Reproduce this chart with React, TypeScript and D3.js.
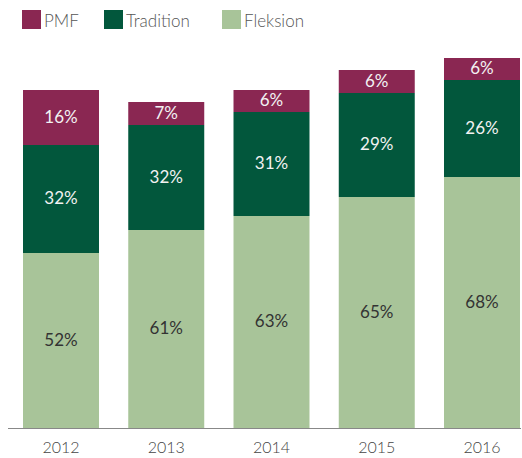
import React from 'react';
import * as d3 from 'd3';

const years = ['2012', '2013', '2014', '2015', '2016'];
const seriesNames = ['Fleksion', 'Tradition', 'PMF'];
// segment sizes (relative units)
const fleksion = [175, 198, 212, 231, 251];
const tradition = [108, 105, 104, 104, 97];
const pmf = [55, 23, 22, 23, 22];
// printed share labels
const fleksionLabels = ['52%', '61%', '63%', '65%', '68%'];
const traditionLabels = ['32%', '32%', '31%', '29%', '26%'];
const pmfLabels = ['16%', '7%', '6%', '6%', '6%'];

const colors: Record<string, string> = {
  PMF: '#8a2752',
  Tradition: '#02573c',
  Fleksion: '#a8c499',
};
const labelColors: Record<string, string> = {
  PMF: '#f2f2f2',
  Tradition: '#f2f2f2',
  Fleksion: '#333',
};

const W = 522;
const H = 458;
const font = 'Lato, "Open Sans", sans-serif';

export default function App() {
  const rows = years.map((y, i) => ({
    year: y,
    Fleksion: fleksion[i],
    Tradition: tradition[i],
    PMF: pmf[i],
  }));
  const labels: Record<string, string[]> = {
    Fleksion: fleksionLabels,
    Tradition: traditionLabels,
    PMF: pmfLabels,
  };

  const x = d3.scaleBand<string>().domain(years).range([23, 520]).paddingInner(0.278).paddingOuter(0);
  const y = d3.scaleLinear().domain([0, 370]).range([428, 58]);
  const stacked = d3.stack<any>().keys(seriesNames)(rows);

  const legend = [
    { name: 'PMF', x: 22 },
    { name: 'Tradition', x: 104 },
    { name: 'Fleksion', x: 222 },
  ];

  return (
    <svg width={W} height={H} style={{ position: 'absolute', left: 0, top: 0 }} fontFamily={font}>
      {legend.map((l) => (
        <g key={l.name}>
          <rect x={l.x} y={10} width={19} height={19} fill={colors[l.name]} />
          <text x={l.x + 22} y={27} fontSize={17} fontWeight={300} fill="#555">{l.name}</text>
        </g>
      ))}
      {stacked.map((s) => (
        <g key={s.key}>
          {s.map((d, i) => {
            const bx = x(years[i])!;
            const top = y(d[1]);
            const bottom = y(d[0]);
            return (
              <g key={i}>
                <rect x={bx} y={top} width={x.bandwidth()} height={bottom - top} fill={colors[s.key]} />
                <text
                  x={bx + x.bandwidth() / 2}
                  y={(top + bottom) / 2}
                  dy="0.3em"
                  textAnchor="middle"
                  fontSize={17}
                  fontWeight={400}
                  fill={labelColors[s.key]}
                >
                  {labels[s.key][i]}
                </text>
              </g>
            );
          })}
        </g>
      ))}
      <line x1={8} x2={521} y1={428.5} y2={428.5} stroke="#888" strokeWidth={1} />
      {years.map((yr) => (
        <text key={yr} x={x(yr)! + x.bandwidth() / 2} y={453} textAnchor="middle" fontSize={16} fontWeight={300} fill="#444">
          {yr}
        </text>
      ))}
    </svg>
  );
}
